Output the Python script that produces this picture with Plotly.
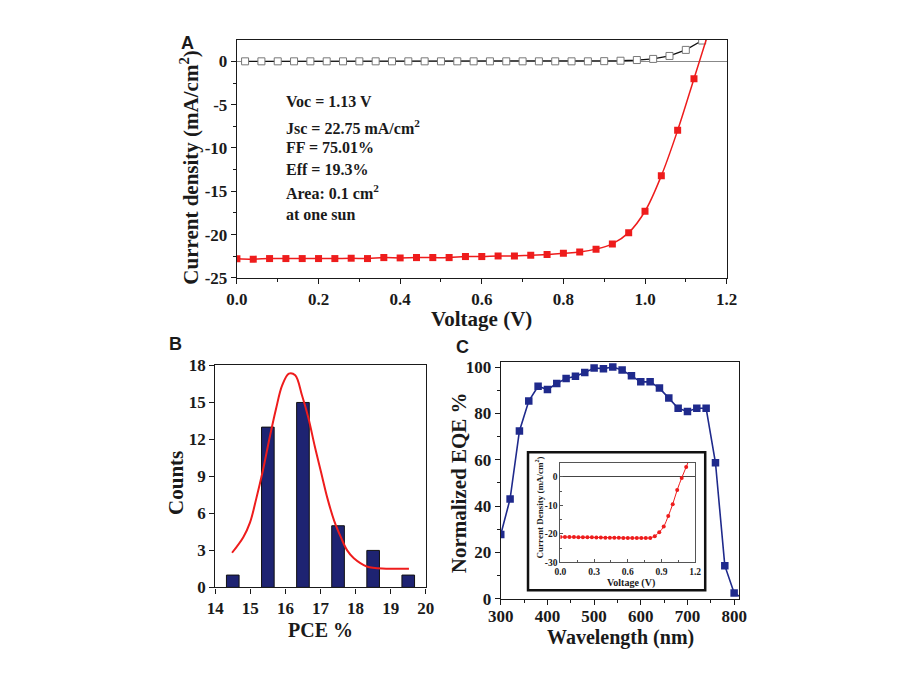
import plotly.graph_objects as go

# ---------------- data ----------------
# Panel A: J-V curves
dark_v = [0.02, 0.06, 0.10, 0.14, 0.18, 0.22, 0.26, 0.30, 0.34, 0.38, 0.42, 0.46, 0.50, 0.54,
          0.58, 0.62, 0.66, 0.70, 0.74, 0.78, 0.82, 0.86, 0.90, 0.94, 0.98, 1.02, 1.06, 1.10, 1.14]
dark_j = [0, 0, 0, 0, 0, 0, 0, 0, 0, 0, 0, 0, 0, 0,
          0, 0, 0, 0, 0, 0, 0, 0, 0.02, 0.07, 0.15, 0.28, 0.62, 1.32, 2.4]
light_v = [0.00, 0.04, 0.08, 0.12, 0.16, 0.20, 0.24, 0.28, 0.32, 0.36, 0.40, 0.44, 0.48, 0.52, 0.56,
           0.60, 0.64, 0.68, 0.72, 0.76, 0.80, 0.84, 0.88, 0.92, 0.96, 1.00, 1.04, 1.08, 1.12, 1.16]
light_j = [-22.78, -22.83, -22.76, -22.76, -22.76, -22.76, -22.76, -22.72, -22.76, -22.65, -22.68,
           -22.65, -22.65, -22.65, -22.53, -22.53, -22.46, -22.46, -22.37, -22.30, -22.15, -22.0,
           -21.67, -21.07, -19.77, -17.3, -13.2, -7.96, -2.0, 4.0]
a_x_ticks = [0.0, 0.2, 0.4, 0.6, 0.8, 1.0, 1.2]
a_x_labels = ["0.0", "0.2", "0.4", "0.6", "0.8", "1.0", "1.2"]
a_y_ticks = [-25, -20, -15, -10, -5, 0]
a_y_labels = ["-25", "-20", "-15", "-10", "-5", "0"]
a_notes = ["Voc = 1.13 V", "Jsc = 22.75 mA/cm<sup>2</sup>", "FF = 75.01%", "Eff = 19.3%",
           "Area: 0.1 cm<sup>2</sup>", "at one sun"]

# Panel B: PCE histogram and fit
pce_bins = [14.5, 15.5, 16.5, 17.5, 18.5, 19.5]
pce_counts = [1, 13, 15, 5, 3, 1]
fit_x = [14.48, 14.80, 14.99, 15.17, 15.36, 15.54, 15.73, 15.91, 16.10, 16.28, 16.47, 16.65,
         16.84, 17.02, 17.20, 17.39, 17.58, 17.76, 17.95, 18.32, 18.87, 19.52]
fit_y = [2.81, 4.07, 5.25, 7.2, 9.5, 12.0, 14.45, 16.4, 17.34, 17.2, 15.6, 13.8,
         11.4, 9.3, 7.2, 5.4, 4.07, 3.0, 2.36, 1.7, 1.52, 1.52]

# Panel C: EQE
wavelength = [300, 320, 340, 360, 380, 400, 420, 440, 460, 480, 500, 520, 540, 560, 580, 600,
              620, 640, 660, 680, 700, 720, 740, 760, 780, 800, 820]
eqe = [27.7, 43.1, 72.4, 85.3, 91.7, 90.3, 92.9, 95.1, 96.0, 97.6, 99.6, 99.3, 100.0, 98.7, 96.2,
       93.6, 93.6, 90.9, 86.6, 82.2, 80.8, 82.2, 82.2, 58.7, 14.3, 2.5, 0.0]

# Inset J-V
inset_v = [0.00, 0.04, 0.08, 0.12, 0.16, 0.20, 0.24, 0.28, 0.32, 0.36, 0.40, 0.44, 0.48, 0.52, 0.56,
           0.60, 0.64, 0.68, 0.72, 0.76, 0.80, 0.84, 0.88, 0.92, 0.96, 1.00, 1.04, 1.08, 1.12, 1.16]
inset_j = [-21.1, -21.1, -21.1, -21.1, -21.15, -21.15, -21.2, -21.2, -21.25, -21.25, -21.3, -21.3,
           -21.35, -21.35, -21.4, -21.4, -21.45, -21.45, -21.45, -21.45, -21.4, -20.8, -19.4, -17.4,
           -13.75, -9.55, -4.55, -0.34, 3.5, 7.5]
in_x_ticks = [0.0, 0.3, 0.6, 0.9, 1.2]
in_x_labels = ["0.0", "0.3", "0.6", "0.9", "1.2"]
in_y_ticks = [-30, -20, -10, 0]
in_y_labels = ["-30", "-20", "-10", "0"]

# ---------------- helpers ----------------
W, H = 908, 681
def PX(x):
    return x / W
def PY(y):
    return 1 - y / H

SERIF = "Liberation Serif, Times New Roman, serif"
SANS = "Liberation Sans Narrow, Arial Narrow, Liberation Sans, Arial, sans-serif"
RED = "#ee1c1c"
NAVY = "#1f2a8c"

def axis(domain, rng, anchor, lw=1.3, tick=17, ticklen=5, **kw):
    d = dict(domain=domain, range=rng, anchor=anchor, showline=True, mirror=True,
             linecolor="#1a1a1a", linewidth=lw, ticks="outside", ticklen=ticklen, tickwidth=lw,
             tickcolor="#1a1a1a", showgrid=False, zeroline=False,
             tickfont=dict(family=SERIF, size=tick, color="#1a1a1a", weight="bold"))
    d.update(kw)
    return d

fig = go.Figure()

# Panel A traces
fig.add_trace(go.Scatter(x=dark_v, y=dark_j, mode="lines+markers", xaxis="x", yaxis="y",
                         line=dict(color="#111111", width=1.3),
                         marker=dict(symbol="square", size=7, color="white",
                                     line=dict(color="#777777", width=1)),
                         showlegend=False))
fig.add_trace(go.Scatter(x=light_v, y=light_j, mode="lines+markers", xaxis="x", yaxis="y",
                         line=dict(color=RED, width=1.5, shape="spline"),
                         marker=dict(symbol="square", size=7, color=RED),
                         showlegend=False))

# Panel B traces
fig.add_trace(go.Bar(x=pce_bins, y=pce_counts, width=0.36, xaxis="x2", yaxis="y2",
                     marker=dict(color="#1e2372", line=dict(color="#111111", width=1)),
                     showlegend=False))
fig.add_trace(go.Scatter(x=fit_x, y=fit_y, mode="lines", xaxis="x2", yaxis="y2",
                         line=dict(color=RED, width=2, shape="spline"), showlegend=False))

# Panel C traces
fig.add_trace(go.Scatter(x=wavelength, y=eqe, mode="lines+markers", xaxis="x3", yaxis="y3",
                         line=dict(color=NAVY, width=1.6),
                         marker=dict(symbol="square", size=7.5, color=NAVY),
                         showlegend=False))

# Inset traces
fig.add_trace(go.Scatter(x=inset_v, y=inset_j, mode="lines+markers", xaxis="x4", yaxis="y4",
                         line=dict(color=RED, width=1, shape="spline"),
                         marker=dict(symbol="circle", size=4, color=RED),
                         showlegend=False))

layout = dict(
    width=W, height=H, margin=dict(l=0, r=0, t=0, b=0),
    paper_bgcolor="white", plot_bgcolor="white", showlegend=False,
    xaxis=axis([PX(230), PX(733)], [0, 1.2], "y", tickvals=a_x_ticks, ticktext=a_x_labels,
               minor=dict(dtick=0.1, ticks="outside", ticklen=3, tickcolor="#1a1a1a")),
    yaxis=axis([PY(276.7), PY(32)], [-25, 2.45], "x", tickvals=a_y_ticks, ticktext=a_y_labels,
               zeroline=True, zerolinecolor="#888888", zerolinewidth=1,
               minor=dict(dtick=2.5, ticks="outside", ticklen=3, tickcolor="#1a1a1a")),
    xaxis2=axis([PX(207.7), PX(424)], [14, 20], "y2", dtick=1),
    yaxis2=axis([PY(595), PY(366.7)], [0, 18], "x2", dtick=3),
    xaxis3=axis([PX(501), PX(746)], [300, 811], "y3", dtick=100, ticklabelstandoff=-3,
                minor=dict(dtick=50, ticks="outside", ticklen=3, tickcolor="#1a1a1a")),
    yaxis3=axis([PY(606.7), PY(363.3)], [0, 102.1], "x3", dtick=20,
                minor=dict(dtick=10, ticks="outside", ticklen=3, tickcolor="#1a1a1a")),
    xaxis4=axis([PX(562.3), PX(700.7)], [0, 1.2], "y4", lw=1, tick=9.5, ticklen=3,
                ticks="inside", linecolor="#555555", tickcolor="#555555",
                tickvals=in_x_ticks, ticktext=in_x_labels,
                minor=dict(dtick=0.15, ticks="inside", ticklen=2, tickcolor="#555555")),
    yaxis4=axis([PY(569.3), PY(467)], [-30, 4.9], "x4", lw=1, tick=9.5, ticklen=3,
                ticks="inside", linecolor="#555555", tickcolor="#555555",
                tickvals=in_y_ticks, ticktext=in_y_labels,
                zeroline=True, zerolinecolor="#444444", zerolinewidth=1,
                minor=dict(dtick=5, ticks="inside", ticklen=2, tickcolor="#555555")),
)
fig.update_layout(**layout)

# inset frame
fig.add_shape(type="rect", xref="paper", yref="paper",
              x0=PX(529), x1=PX(711), y0=PY(598), y1=PY(456),
              line=dict(color="#111111", width=2.5), fillcolor="rgba(0,0,0,0)", layer="above")

ann = []
def text(x, y, t, size, family=SERIF, angle=0, xanchor="center", yanchor="middle"):
    ann.append(dict(x=PX(x), y=PY(y), xref="paper", yref="paper", text=t, showarrow=False,
                    textangle=angle, xanchor=xanchor, yanchor=yanchor,
                    font=dict(family=family, size=size, color="#1a1a1a", weight="bold")))

# panel letters
text(179, 35, "A", 18, SANS)
text(167, 345, "B", 18, SANS)
text(462, 348, "C", 18, SANS)

# axis titles
text(481, 319, "Voltage (V)", 21)
text(181, 163, "Current density (mA/cm<sup>2</sup>)", 21, angle=-90)
text(316, 639, "PCE %", 20)
text(168, 488, "Counts", 21, angle=-90)
text(624, 647, "Wavelength (nm)", 20)
text(459, 487, "Normalized EQE %", 21, angle=-90)
text(635, 590, "Voltage (V)", 10)
text(540, 513, "Current Density (mA/cm<sup>2</sup>)", 9, angle=-90)

# panel A notes
note_y = [95, 121.7, 142.7, 165, 188.3, 211.7]
for yy, t in zip(note_y, a_notes):
    text(278, yy, t, 16, xanchor="left")

fig.update_layout(annotations=ann)
fig.write_html("out.html", config={"displayModeBar": False},
               post_script="document.body.style.margin='0';document.body.style.padding='0';"
                           "document.body.style.overflow='hidden';")
